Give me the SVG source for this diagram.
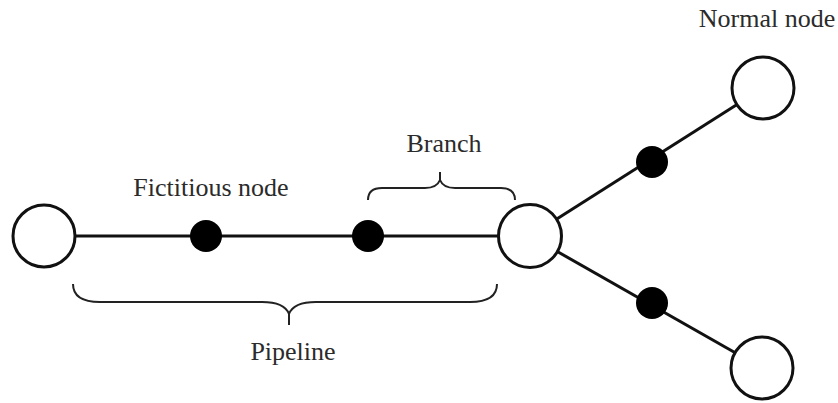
<svg xmlns="http://www.w3.org/2000/svg" width="838" height="403" viewBox="0 0 838 403">
  <style>
    .pipe { stroke: #111; stroke-width: 3; fill: none; }
    .normal { fill: #fff; stroke: #111; stroke-width: 3; }
    .fict { fill: #000; }
    .brace { stroke: #222; stroke-width: 2; fill: none; }
    .label { font-size: 26px; fill: #2b2b2b; text-anchor: middle; }
  </style>
  <rect width="838" height="403" fill="#fff"/>

  <!-- pipes between nodes -->
  <g id="connectors">
    <line class="pipe" x1="44" y1="236" x2="530" y2="236"/>
    <line class="pipe" x1="530" y1="236" x2="763" y2="88"/>
    <line class="pipe" x1="530" y1="236" x2="762" y2="368"/>
  </g>

  <!-- normal nodes -->
  <g id="node-left"><circle class="normal" cx="44" cy="236" r="31"/></g>
  <g id="node-center"><circle class="normal" cx="530" cy="236" r="31.5"/></g>
  <g id="node-top-right"><circle class="normal" cx="763" cy="88" r="31"/></g>
  <g id="node-bottom-right"><circle class="normal" cx="762" cy="368" r="31"/></g>

  <!-- fictitious nodes -->
  <g id="fict-1"><circle class="fict" cx="206" cy="236" r="16"/></g>
  <g id="fict-2"><circle class="fict" cx="368" cy="236" r="16"/></g>
  <g id="fict-3"><circle class="fict" cx="652" cy="162" r="16"/></g>
  <g id="fict-4"><circle class="fict" cx="652" cy="303" r="16"/></g>

  <!-- braces -->
  <g id="brace-branch">
    <path class="brace" d="M368,200 C368,192 373,188 382,188 L425,188 C434,188 438,185 440,180 C442,185 446,188 455,188 L501,188 C510,188 515,192 515,200 M440,181 L440,172"/>
  </g>
  <g id="brace-pipeline">
    <path class="brace" d="M73,284 C73,296 82,302 100,302 L262,302 C278,302 286,306 289,314 C292,306 300,302 316,302 L470,302 C488,302 497,296 497,284 M289,313 L289,325"/>
  </g>

  <!-- labels -->
  <g id="labels" font-family="Liberation Serif, DejaVu Serif, serif">
    <text class="label" x="767" y="27">Normal node</text>
    <text class="label" x="444" y="152">Branch</text>
    <text class="label" x="211" y="196">Fictitious node</text>
    <text class="label" x="293" y="360">Pipeline</text>
  </g>
</svg>
